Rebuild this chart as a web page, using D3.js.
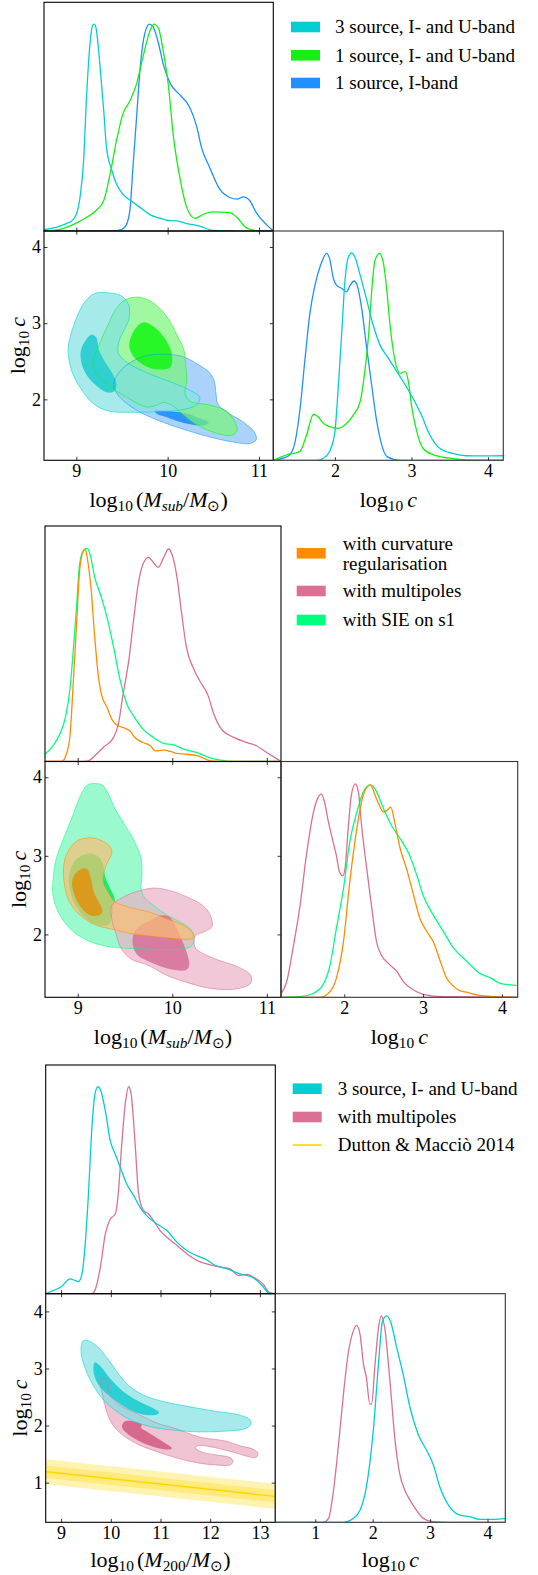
<!DOCTYPE html>
<html><head><meta charset="utf-8">
<script src="https://cdn.jsdelivr.net/npm/d3@7"></script>
<style>body{margin:0;background:#fff} text{font-family:'Liberation Serif','Times New Roman',Times,serif}</style>
</head><body>
<svg id="c" width="538" height="1575"></svg>
<script>
// ---------------- DATA ----------------
// Group 1 : marginal of log10(Msub) [x, normalised density]
const g1TopCyan = [[8.646,0.006],[8.82,0.024],[8.89,0.036],[8.95,0.049],[9.00,0.081],[9.04,0.162],[9.08,0.34],[9.11,0.631],[9.15,0.906],[9.18,0.995],[9.20,1.0],[9.22,0.971],[9.26,0.793],[9.30,0.583],[9.33,0.405],[9.39,0.291],[9.44,0.227],[9.51,0.178],[9.61,0.142],[9.70,0.113],[9.81,0.078],[9.92,0.061],[9.99,0.052],[10.10,0.049],[10.21,0.036],[10.35,0.024],[10.50,0.003],[10.72,0]];
const g1TopGreen = [[8.646,0],[8.82,0.008],[8.97,0.032],[9.11,0.065],[9.22,0.1],[9.30,0.146],[9.37,0.275],[9.44,0.437],[9.51,0.566],[9.59,0.631],[9.66,0.712],[9.73,0.841],[9.81,0.971],[9.85,1.0],[9.90,0.979],[9.95,0.874],[10.01,0.696],[10.06,0.469],[10.14,0.243],[10.21,0.113],[10.30,0.061],[10.39,0.081],[10.50,0.092],[10.68,0.089],[10.76,0.065],[10.86,0.016],[11.01,0],[11.157,0]];
const g1TopBlue = [[8.646,0],[9.405,0],[9.50,0.008],[9.55,0.032],[9.59,0.113],[9.62,0.307],[9.66,0.55],[9.70,0.793],[9.75,0.955],[9.80,1.0],[9.84,0.987],[9.90,0.906],[9.95,0.809],[10.03,0.712],[10.14,0.655],[10.24,0.599],[10.32,0.502],[10.37,0.405],[10.46,0.307],[10.57,0.202],[10.68,0.162],[10.76,0.154],[10.83,0.165],[10.90,0.146],[10.97,0.089],[11.08,0.032],[11.157,0]];
// Group 1 : marginal of log10 c
const g1RightCyan = [[1.203,0],[1.76,0],[1.85,0.01],[1.93,0.042],[2.0,0.138],[2.04,0.331],[2.09,0.62],[2.13,0.86],[2.17,0.973],[2.22,1.0],[2.26,0.981],[2.33,0.892],[2.41,0.78],[2.50,0.652],[2.59,0.555],[2.70,0.491],[2.81,0.427],[2.92,0.363],[3.02,0.299],[3.13,0.218],[3.24,0.122],[3.37,0.058],[3.55,0.032],[3.72,0.022],[3.94,0.021],[4.2,0.022]];
const g1RightGreen = [[1.20,0],[1.37,0.026],[1.54,0.042],[1.63,0.122],[1.72,0.222],[1.78,0.21],[1.85,0.178],[1.93,0.162],[2.04,0.154],[2.13,0.17],[2.24,0.218],[2.33,0.283],[2.39,0.427],[2.44,0.604],[2.48,0.812],[2.52,0.957],[2.58,0.997],[2.63,0.957],[2.68,0.812],[2.72,0.652],[2.78,0.491],[2.85,0.419],[2.92,0.427],[2.96,0.379],[3.0,0.266],[3.07,0.138],[3.15,0.058],[3.29,0.026],[3.50,0.01],[3.72,0.002],[4.2,0]];
const g1RightBlue = [[1.203,0],[1.325,0.01],[1.41,0.026],[1.48,0.09],[1.54,0.234],[1.61,0.491],[1.67,0.70],[1.74,0.844],[1.83,0.957],[1.89,0.997],[1.93,0.973],[1.98,0.876],[2.02,0.844],[2.09,0.828],[2.15,0.812],[2.20,0.844],[2.25,0.864],[2.29,0.844],[2.35,0.732],[2.41,0.555],[2.48,0.363],[2.54,0.202],[2.60,0.09],[2.68,0.018],[2.85,0],[4.2,0]];
// Group 1 : 2D credible regions [log10 Msub, log10 c]
const g1CyanOuter = [[9.20,3.39],[9.34,3.40],[9.49,3.36],[9.57,3.25],[9.58,3.07],[9.52,2.90],[9.47,2.77],[9.46,2.61],[9.56,2.48],[9.77,2.35],[10.05,2.22],[10.26,2.11],[10.35,2.03],[10.33,1.94],[10.19,1.87],[9.91,1.84],[9.59,1.83],[9.34,1.85],[9.17,1.96],[9.04,2.16],[8.95,2.37],[8.91,2.64],[8.94,2.85],[9.02,3.12],[9.10,3.29]];
const g1CyanInner = [[9.17,2.85],[9.22,2.81],[9.25,2.64],[9.33,2.46],[9.40,2.33],[9.44,2.20],[9.42,2.11],[9.34,2.09],[9.24,2.16],[9.13,2.29],[9.06,2.46],[9.05,2.64],[9.10,2.77]];
const g1GreenOuter = [[9.54,3.31],[9.70,3.34],[9.86,3.25],[10.00,3.07],[10.10,2.85],[10.18,2.64],[10.20,2.42],[10.21,2.24],[10.19,2.07],[10.25,1.97],[10.44,1.93],[10.64,1.85],[10.73,1.72],[10.76,1.59],[10.71,1.53],[10.55,1.55],[10.30,1.68],[10.16,1.81],[10.05,1.92],[9.96,1.96],[9.87,1.92],[9.77,1.90],[9.59,2.00],[9.38,2.16],[9.22,2.33],[9.18,2.46],[9.25,2.72],[9.34,2.96],[9.43,3.18]];
const g1GreenInner = [[9.73,3.01],[9.84,2.96],[9.95,2.83],[10.03,2.66],[10.05,2.48],[10.02,2.41],[9.84,2.40],[9.70,2.48],[9.61,2.59],[9.58,2.72],[9.63,2.90]];
const g1BlueOuter = [[9.41,2.22],[9.48,2.37],[9.63,2.51],[9.80,2.58],[10.02,2.59],[10.19,2.55],[10.33,2.46],[10.46,2.35],[10.51,2.24],[10.53,2.07],[10.55,1.94],[10.65,1.83],[10.83,1.70],[10.95,1.57],[10.97,1.47],[10.90,1.42],[10.72,1.44],[10.48,1.50],[10.19,1.60],[9.95,1.70],[9.70,1.83],[9.50,2.00],[9.42,2.13]];
const g1BlueInner = [[9.86,1.85],[10.05,1.84],[10.19,1.82],[10.33,1.76],[10.45,1.70],[10.41,1.66],[10.26,1.67],[10.12,1.71],[9.98,1.77],[9.88,1.81]];
const g1Labels = [["3 source, I- and U-band"],["1 source, I- and U-band"],["1 source, I-band"]];

// Group 2
const g2TopOrange = [[8.654,0],[8.83,0],[8.88,0.034],[8.92,0.128],[8.95,0.347],[8.99,0.66],[9.02,0.895],[9.06,0.989],[9.08,0.997],[9.10,0.958],[9.14,0.817],[9.18,0.582],[9.22,0.394],[9.25,0.316],[9.31,0.254],[9.36,0.199],[9.41,0.172],[9.50,0.156],[9.55,0.144],[9.61,0.11],[9.69,0.089],[9.77,0.074],[9.82,0.05],[9.91,0.053],[9.98,0.047],[10.05,0.038],[10.15,0.034],[10.26,0.027],[10.33,0.016],[10.40,0.003],[10.58,0],[11.15,0]];
const g2TopPink = [[8.654,0],[9.02,0],[9.11,0.003],[9.18,0.027],[9.27,0.066],[9.38,0.113],[9.43,0.175],[9.48,0.316],[9.54,0.473],[9.59,0.66],[9.64,0.833],[9.69,0.926],[9.75,0.958],[9.80,0.934],[9.85,0.911],[9.91,0.958],[9.96,0.997],[9.99,0.981],[10.05,0.864],[10.10,0.692],[10.15,0.535],[10.22,0.441],[10.29,0.379],[10.38,0.308],[10.44,0.222],[10.52,0.152],[10.65,0.113],[10.79,0.089],[10.89,0.074],[11.0,0.042],[11.11,0.011],[11.15,0]];
const g2TopGreen = [[8.654,0.034],[8.74,0.074],[8.81,0.128],[8.87,0.207],[8.92,0.347],[8.95,0.504],[8.99,0.739],[9.02,0.926],[9.06,0.989],[9.10,1.0],[9.13,0.973],[9.18,0.864],[9.25,0.77],[9.31,0.676],[9.38,0.535],[9.45,0.379],[9.52,0.269],[9.59,0.214],[9.69,0.152],[9.80,0.113],[9.91,0.085],[10.01,0.078],[10.12,0.058],[10.26,0.042],[10.37,0.022],[10.51,0.006],[10.65,0],[11.15,0]];
const g2RightOrange = [[1.203,0],[1.69,0],[1.80,0.019],[1.90,0.089],[1.99,0.26],[2.07,0.54],[2.16,0.79],[2.24,0.946],[2.33,0.995],[2.41,0.93],[2.50,0.868],[2.54,0.875],[2.59,0.891],[2.64,0.821],[2.71,0.696],[2.79,0.603],[2.88,0.478],[2.96,0.369],[3.05,0.307],[3.13,0.26],[3.22,0.167],[3.30,0.089],[3.39,0.05],[3.47,0.03],[3.56,0.023],[3.68,0.011],[3.89,0.003],[4.2,0]];
const g2RightPink = [[1.203,0.019],[1.27,0.073],[1.35,0.229],[1.44,0.431],[1.52,0.665],[1.61,0.868],[1.67,0.938],[1.71,0.953],[1.75,0.914],[1.80,0.821],[1.86,0.727],[1.90,0.665],[1.94,0.587],[1.98,0.569],[2.01,0.603],[2.05,0.79],[2.09,0.946],[2.14,1.0],[2.18,0.961],[2.22,0.805],[2.28,0.618],[2.35,0.416],[2.41,0.26],[2.47,0.198],[2.56,0.159],[2.67,0.12],[2.75,0.073],[2.88,0.034],[3.0,0.014],[3.26,0.003],[4.2,0]];
const g2RightGreen = [[1.203,0],[1.44,0.003],[1.61,0.019],[1.73,0.058],[1.82,0.151],[1.90,0.322],[1.99,0.509],[2.07,0.727],[2.16,0.868],[2.24,0.961],[2.33,0.995],[2.39,0.977],[2.50,0.883],[2.60,0.805],[2.71,0.743],[2.83,0.665],[2.92,0.572],[3.0,0.478],[3.13,0.385],[3.26,0.307],[3.39,0.229],[3.56,0.167],[3.72,0.112],[3.85,0.092],[3.98,0.065],[4.11,0.058],[4.2,0.055]];
const g2OrangeOuter = [[8.98,3.18],[9.12,3.23],[9.24,3.20],[9.34,3.12],[9.36,3.03],[9.32,2.93],[9.28,2.80],[9.27,2.67],[9.32,2.54],[9.39,2.42],[9.53,2.35],[9.74,2.29],[9.94,2.20],[10.11,2.12],[10.21,2.03],[10.23,1.97],[10.18,1.94],[10.01,1.95],[9.77,1.98],[9.56,2.01],[9.39,2.06],[9.19,2.12],[9.02,2.25],[8.91,2.42],[8.86,2.63],[8.85,2.84],[8.88,3.01]];
const g2OrangeInner = [[9.05,2.84],[9.10,2.83],[9.14,2.71],[9.17,2.54],[9.24,2.37],[9.26,2.29],[9.22,2.24],[9.12,2.25],[9.02,2.37],[8.96,2.52],[8.94,2.67],[8.98,2.78]];
const g2PinkOuter = [[9.67,2.56],[9.80,2.59],[9.97,2.56],[10.15,2.48],[10.32,2.37],[10.40,2.25],[10.42,2.10],[10.33,2.03],[10.25,1.99],[10.23,1.91],[10.25,1.82],[10.45,1.69],[10.69,1.59],[10.83,1.48],[10.83,1.38],[10.69,1.31],[10.42,1.31],[10.18,1.38],[9.94,1.48],[9.74,1.61],[9.56,1.69],[9.46,1.82],[9.41,1.99],[9.36,2.20],[9.36,2.37],[9.46,2.46],[9.56,2.52]];
const g2PinkInner = [[9.87,2.24],[9.96,2.23],[10.01,2.16],[10.08,1.99],[10.15,1.78],[10.18,1.61],[10.15,1.55],[10.01,1.55],[9.80,1.63],[9.63,1.74],[9.58,1.89],[9.60,2.03],[9.67,2.12],[9.77,2.18]];
const g2GreenOuter = [[9.17,3.92],[9.26,3.90],[9.32,3.80],[9.39,3.61],[9.50,3.39],[9.60,3.18],[9.67,2.97],[9.68,2.76],[9.67,2.59],[9.70,2.48],[9.80,2.37],[9.94,2.25],[10.08,2.16],[10.20,2.06],[10.23,1.95],[10.21,1.86],[10.08,1.81],[9.84,1.81],[9.63,1.82],[9.43,1.83],[9.26,1.86],[9.09,1.93],[8.93,2.06],[8.81,2.25],[8.74,2.48],[8.74,2.71],[8.77,2.95],[8.85,3.22],[8.95,3.52],[9.03,3.77],[9.10,3.90]];
const g2GreenInner = [[9.12,3.03],[9.22,2.99],[9.27,2.88],[9.29,2.73],[9.34,2.59],[9.39,2.46],[9.38,2.31],[9.32,2.12],[9.15,2.15],[9.02,2.29],[8.93,2.50],[8.91,2.76],[8.98,2.95]];
const g2Labels = [["with curvature","regularisation"],["with multipoles"],["with SIE on s1"]];

// Group 3 : log10 M200 vs log10 c
const g3TopCyan = [[8.69,0],[8.85,0.016],[9.01,0.035],[9.18,0.072],[9.28,0.064],[9.35,0.059],[9.42,0.096],[9.48,0.225],[9.55,0.482],[9.62,0.803],[9.68,0.963],[9.74,1.0],[9.79,0.987],[9.89,0.883],[9.99,0.738],[10.09,0.674],[10.19,0.61],[10.32,0.53],[10.46,0.474],[10.59,0.417],[10.72,0.377],[10.93,0.337],[11.13,0.305],[11.33,0.249],[11.53,0.209],[11.80,0.177],[11.93,0.164],[12.07,0.141],[12.34,0.12],[12.60,0.096],[12.81,0.083],[12.94,0.064],[13.07,0.032],[13.18,0.003],[13.3,0]];
const g3TopPink = [[8.69,0],[9.62,0],[9.68,0.016],[9.79,0.128],[9.89,0.289],[9.99,0.361],[10.09,0.385],[10.15,0.482],[10.22,0.722],[10.29,0.915],[10.36,1.0],[10.41,0.963],[10.49,0.722],[10.56,0.482],[10.66,0.401],[10.76,0.385],[10.86,0.353],[10.99,0.305],[11.13,0.273],[11.33,0.233],[11.53,0.193],[11.73,0.161],[11.93,0.144],[12.20,0.128],[12.40,0.12],[12.57,0.088],[12.74,0.093],[12.87,0.08],[13.07,0.045],[13.18,0.008],[13.3,0]];
const g3RightCyan = [[0.3,0],[1.49,0],[1.66,0.019],[1.78,0.059],[1.89,0.171],[2.01,0.443],[2.10,0.763],[2.17,0.971],[2.24,0.998],[2.31,0.971],[2.42,0.843],[2.53,0.715],[2.65,0.555],[2.79,0.427],[2.94,0.347],[3.05,0.283],[3.17,0.171],[3.34,0.075],[3.52,0.035],[3.69,0.027],[3.87,0.014],[4.10,0.014],[4.31,0.018]];
const g3RightPink = [[0.3,0],[1.14,0],[1.23,0.019],[1.31,0.139],[1.40,0.363],[1.49,0.619],[1.57,0.811],[1.66,0.923],[1.72,0.952],[1.78,0.907],[1.84,0.763],[1.89,0.699],[1.95,0.571],[1.98,0.571],[2.04,0.763],[2.10,0.939],[2.15,0.998],[2.21,0.939],[2.30,0.683],[2.39,0.395],[2.47,0.235],[2.56,0.155],[2.65,0.107],[2.76,0.059],[2.88,0.019],[3.05,0.003],[3.34,0],[4.3,0]];
const g3CyanOuter = [[9.45,3.49],[9.61,3.46],[9.78,3.34],[9.97,3.13],[10.16,2.90],[10.36,2.70],[10.62,2.55],[11.01,2.43],[11.46,2.35],[12.04,2.26],[12.56,2.19],[12.79,2.11],[12.82,2.02],[12.69,1.94],[12.43,1.91],[11.78,1.89],[11.27,1.92],[10.81,1.98],[10.42,2.09],[10.10,2.26],[9.84,2.46],[9.65,2.70],[9.49,2.99],[9.40,3.31]];
const g3CyanInner = [[9.68,3.11],[9.78,3.05],[9.97,2.84],[10.23,2.61],[10.55,2.43],[10.88,2.29],[10.97,2.23],[10.91,2.19],[10.62,2.20],[10.29,2.32],[9.97,2.52],[9.74,2.73],[9.65,2.96]];
const g3PinkOuter = [[9.81,2.81],[9.87,2.83],[9.94,2.75],[9.97,2.55],[10.16,2.37],[10.55,2.20],[10.94,2.04],[11.33,1.94],[11.78,1.80],[12.30,1.73],[12.62,1.64],[12.88,1.58],[12.96,1.51],[12.92,1.44],[12.75,1.46],[12.56,1.51],[12.30,1.57],[12.0,1.63],[11.77,1.65],[11.70,1.61],[11.85,1.53],[12.17,1.48],[12.40,1.44],[12.46,1.37],[12.40,1.31],[12.11,1.31],[11.72,1.35],[11.33,1.43],[10.94,1.54],[10.55,1.67],[10.26,1.82],[10.04,2.01],[9.91,2.26],[9.84,2.52],[9.79,2.73]];
const g3PinkInner = [[10.26,2.06],[10.42,2.08],[10.62,2.02],[10.61,1.96],[10.75,1.88],[11.01,1.74],[11.23,1.60],[11.10,1.58],[10.81,1.64],[10.52,1.75],[10.33,1.86],[10.23,1.96]];
// Dutton & Maccio 2014 relation and its scatter
const duttonM = [8.7, 13.3];
const duttonC = [1.19, 0.76];
const duttonScatter = 0.11;
const g3Labels = [["3 source, I- and U-band"],["with multipoles"],["Dutton & Macciò 2014"]];

// tick values
const msubTicks = [9, 10, 11];
const cTicks12 = [2, 3, 4];
const m200Ticks = [9, 10, 11, 12, 13];
const cTicks3 = [1, 2, 3, 4];

// ---------------- DRAWING ----------------
const FONT = "Liberation Serif, Times New Roman, Times, serif";
const HMAX = 1.105;
const svg = d3.select("#c");
const defs = svg.append("defs");

function addMath(g, x, y, parts, size, rotate) {
  const t = g.append("text").style("font-family", FONT).attr("font-size", size)
    .attr("text-anchor", "middle").attr("fill", "#000");
  if (rotate) t.attr("transform", `translate(${x},${y}) rotate(-90)`);
  else t.attr("x", x).attr("y", y);
  let sub = false;
  const sh = size * 0.19;
  parts.forEach(p => {
    const s = t.append("tspan").text(p.t);
    let dy = 0;
    if (p.sub && !sub) dy = sh;
    if (!p.sub && sub) dy = -sh;
    if (dy) s.attr("dy", dy);
    if (p.dx) s.attr("dx", p.dx);
    if (p.sub) s.attr("font-size", size * 0.7);
    if (p.it) s.attr("font-style", "italic");
    sub = !!p.sub;
  });
}

function axisStyle(sel) {
  sel.attr("font-family", null).attr("font-size", 18);
  sel.select(".domain").remove();
  sel.selectAll(".tick line").attr("stroke", "#000").attr("stroke-width", 0.8);
  sel.selectAll(".tick text").attr("fill", "#000").style("font-family", FONT);
}

function drawGroup(cfg) {
  const g = svg.append("g");
  const { L, M, R, T, Mid, B } = cfg.box;
  const x = d3.scaleLinear().domain(cfg.xDom).range([L, M]);
  const y = d3.scaleLinear().domain(cfg.yDom).range([B, Mid]);
  const c = d3.scaleLinear().domain(cfg.cDom).range([M, R]);
  const hTop = d3.scaleLinear().domain([0, HMAX]).range([Mid, T]);
  const hRight = d3.scaleLinear().domain([0, HMAX]).range([B, Mid]);
  const id = cfg.id;
  [["top", L, T, M - L, Mid - T], ["main", L, Mid, M - L, B - Mid], ["right", M, Mid, R - M, B - Mid]]
    .forEach(([n, x0, y0, w, h]) => {
      defs.append("clipPath").attr("id", id + n).append("rect")
        .attr("x", x0).attr("y", y0).attr("width", w).attr("height", h);
    });

  // ---- 2D panel
  const main = g.append("g").attr("clip-path", `url(#${id}main)`);
  if (cfg.dutton) {
    const d = cfg.dutton.m.map((m, i) => ({ m, c: cfg.dutton.c[i] }));
    const s = cfg.dutton.s;
    [2, 1].forEach(k => {
      main.append("path").datum(d)
        .attr("d", d3.area().x(p => x(p.m)).y0(p => y(p.c - k * s)).y1(p => y(p.c + k * s)))
        .attr("fill", "#FFD700").attr("fill-opacity", 0.3);
    });
    main.append("path").datum(d)
      .attr("d", d3.line().x(p => x(p.m)).y(p => y(p.c)))
      .attr("fill", "none").attr("stroke", "#FFD700").attr("stroke-width", 1.4);
  }
  const shape = d3.line().x(p => x(p[0])).y(p => y(p[1])).curve(d3.curveCatmullRomClosed.alpha(0.5));
  const order = cfg.series.filter(s => s.outer).reverse();
  order.forEach(s => {
    main.append("path").attr("d", shape(s.outer)).attr("fill", s.outerFill).attr("fill-opacity", 0.7);
    main.append("path").attr("d", shape(s.inner)).attr("fill", s.innerFill).attr("fill-opacity", 0.9);
  });
  order.forEach(s => {
    main.append("path").attr("d", shape(s.outer)).attr("fill", "none")
      .attr("stroke", s.color).attr("stroke-opacity", 0.55).attr("stroke-width", 1);
  });

  // ---- top marginal
  const top = g.append("g").attr("clip-path", `url(#${id}top)`);
  const lineTop = d3.line().x(p => x(p[0])).y(p => hTop(p[1])).curve(d3.curveMonotoneX);
  order.forEach(s => {
    top.append("path").attr("d", lineTop(s.mx)).attr("fill", "none")
      .attr("stroke", s.color).attr("stroke-width", 1.3);
  });
  // ---- right marginal
  const right = g.append("g").attr("clip-path", `url(#${id}right)`);
  const lineRight = d3.line().x(p => c(p[0])).y(p => hRight(p[1])).curve(d3.curveMonotoneX);
  order.forEach(s => {
    right.append("path").attr("d", lineRight(s.mc)).attr("fill", "none")
      .attr("stroke", s.color).attr("stroke-width", 1.3);
  });

  // ---- axes
  const fmt = d3.format("d");
  g.append("g").attr("transform", `translate(0,${B})`)
    .call(d3.axisBottom(x).tickValues(cfg.xTicks).tickSize(-3.5).tickPadding(3.7).tickFormat(fmt)).call(axisStyle);
  g.append("g").attr("transform", `translate(${L},0)`)
    .call(d3.axisLeft(y).tickValues(cfg.yTicks).tickSize(-3.5).tickPadding(3).tickFormat(fmt)).call(axisStyle);
  g.append("g").attr("transform", `translate(0,${Mid})`)
    .call(d3.axisTop(x).tickValues(cfg.xTicks).tickSize(-3.5).tickFormat("")).call(axisStyle);
  g.append("g").attr("transform", `translate(${M},0)`)
    .call(d3.axisRight(y).tickValues(cfg.yTicks).tickSize(-3.5).tickFormat("")).call(axisStyle);
  g.append("g").attr("transform", `translate(0,${Mid})`)
    .call(d3.axisBottom(x).tickValues(cfg.xTicks).tickSize(-3.5).tickFormat("")).call(axisStyle);
  g.append("g").attr("transform", `translate(0,${B})`)
    .call(d3.axisBottom(c).tickValues(cfg.cTicks).tickSize(-3).tickPadding(4.2).tickFormat(fmt)).call(axisStyle);

  // ---- frames
  [[L, T, M - L, Mid - T, "#000"], [L, Mid, M - L, B - Mid, "#000"], [M, Mid, R - M, B - Mid, "#333"]]
    .forEach(([x0, y0, w, h, col]) => {
      g.append("rect").attr("x", x0).attr("y", y0).attr("width", w).attr("height", h)
        .attr("fill", "none").attr("stroke", col).attr("stroke-width", 1.1);
    });

  // ---- axis labels
  const lab = 22;
  const lby = B + cfg.labelOffset;
  addMath(g, (L + M) / 2, lby, cfg.xLabel, lab, false);
  addMath(g, (M + R) / 2, lby, [{ t: "log" }, { t: "10", sub: true }, { t: "c", it: true, dx: 4 }], lab, false);
  addMath(g, L - 19, (Mid + B) / 2, [{ t: "log" }, { t: "10", sub: true }, { t: "c", it: true, dx: 4 }], lab, true);

  // ---- legend
  const lg = cfg.legend;
  cfg.series.forEach((s, i) => {
    const cy = lg.rows[i];
    if (s.legendLine) {
      g.append("line").attr("x1", lg.x).attr("x2", lg.x + 29).attr("y1", cy).attr("y2", cy)
        .attr("stroke", s.color).attr("stroke-width", 1.6);
    } else {
      g.append("rect").attr("x", lg.x).attr("y", cy - 5.3).attr("width", 29).attr("height", 10.6)
        .attr("fill", s.color);
    }
    const t = g.append("text").style("font-family", FONT).attr("font-size", 19).attr("fill", "#000");
    s.label.forEach((ln, j) => {
      t.append("tspan").attr("x", lg.tx).attr("y", cy + 6.3 + (j - (s.label.length - 1) / 2) * 20).text(ln);
    });
  });
}

const msubLabel = [{ t: "log" }, { t: "10", sub: true }, { t: "(", dx: 3 }, { t: "M", it: true }, { t: "sub", sub: true, it: true },
  { t: "/" }, { t: "M", it: true }, { t: "⊙", sub: true }, { t: ")" }];
const m200Label = [{ t: "log" }, { t: "10", sub: true }, { t: "(", dx: 3 }, { t: "M", it: true }, { t: "200", sub: true },
  { t: "/" }, { t: "M", it: true }, { t: "⊙", sub: true }, { t: ")" }];

drawGroup({
  id: "g1", box: { L: 44, M: 273.3, R: 503.3, T: 2.3, Mid: 231, B: 460.3 },
  xDom: [8.646, 11.157], yDom: [1.2, 4.21], cDom: [1.195, 4.2], labelOffset: 46.5,
  xTicks: msubTicks, yTicks: cTicks12, cTicks: cTicks12, xLabel: msubLabel,
  legend: { x: 291, tx: 335, rows: [27, 55.3, 83] },
  series: [
    { color: "#00CED1", outerFill: "rgb(128,225,226)", innerFill: "rgb(35,205,207)", outer: g1CyanOuter, inner: g1CyanInner, mx: g1TopCyan, mc: g1RightCyan, label: g1Labels[0] },
    { color: "#14F014", outerFill: "rgb(119,245,119)", innerFill: "rgb(25,245,25)", outer: g1GreenOuter, inner: g1GreenInner, mx: g1TopGreen, mc: g1RightGreen, label: g1Labels[1] },
    { color: "#1E90FF", outerFill: "rgb(134,191,248)", innerFill: "rgb(30,140,255)", outer: g1BlueOuter, inner: g1BlueInner, mx: g1TopBlue, mc: g1RightBlue, label: g1Labels[2] }
  ]
});

drawGroup({
  id: "g2", box: { L: 45, M: 281, R: 517.7, T: 526, Mid: 761.5, B: 997.3 },
  xDom: [8.654, 11.15], yDom: [1.2, 4.2], cDom: [1.198, 4.2], labelOffset: 47,
  xTicks: msubTicks, yTicks: cTicks12, cTicks: cTicks12, xLabel: msubLabel,
  legend: { x: 296.7, tx: 342.7, rows: [553.3, 591, 620] },
  series: [
    { color: "#FF8C00", outerFill: "rgb(250,190,115)", innerFill: "rgb(222,150,20)", outer: g2OrangeOuter, inner: g2OrangeInner, mx: g2TopOrange, mc: g2RightOrange, label: g2Labels[0] },
    { color: "#DB7093", outerFill: "rgb(234,176,198)", innerFill: "rgb(215,115,155)", outer: g2PinkOuter, inner: g2PinkInner, mx: g2TopPink, mc: g2RightPink, label: g2Labels[1] },
    { color: "#00FF7F", outerFill: "rgb(112,248,184)", innerFill: "rgb(0,240,100)", outer: g2GreenOuter, inner: g2GreenInner, mx: g2TopGreen, mc: g2RightGreen, label: g2Labels[2] }
  ]
});

drawGroup({
  id: "g3", box: { L: 45.7, M: 275.3, R: 505.3, T: 1065, Mid: 1293.7, B: 1522.3 },
  xDom: [8.69, 13.31], yDom: [0.305, 4.31], cDom: [0.303, 4.31], labelOffset: 44.5,
  xTicks: m200Ticks, yTicks: cTicks3, cTicks: cTicks3, xLabel: m200Label,
  dutton: { m: duttonM, c: duttonC, s: duttonScatter },
  legend: { x: 292.7, tx: 337.7, rows: [1088.7, 1117, 1145] },
  series: [
    { color: "#00CED1", outerFill: "rgb(128,225,226)", innerFill: "rgb(30,205,210)", outer: g3CyanOuter, inner: g3CyanInner, mx: g3TopCyan, mc: g3RightCyan, label: g3Labels[0] },
    { color: "#DB7093", outerFill: "rgb(231,169,191)", innerFill: "rgb(212,95,135)", outer: g3PinkOuter, inner: g3PinkInner, mx: g3TopPink, mc: g3RightPink, label: g3Labels[1] },
    { color: "#FFD700", legendLine: true, label: g3Labels[2] }
  ]
});
</script>
</body></html>
